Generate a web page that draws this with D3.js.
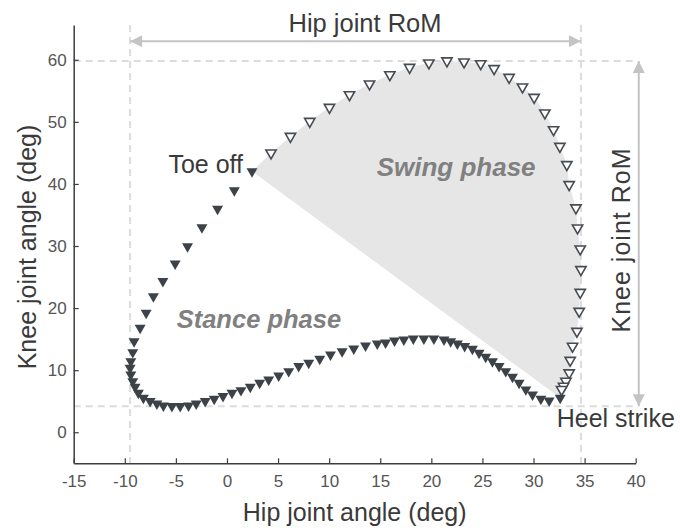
<!DOCTYPE html>
<html>
<head>
<meta charset="utf-8">
<script src="https://cdn.jsdelivr.net/npm/d3@7"></script>
<style>
  body { margin: 0; background: #fff; }
  svg { font-family: "Liberation Sans", Arial, Helvetica, sans-serif; }
</style>
</head>
<body>
<script>
// SVG size
const width = 680;
const height = 530;

// stance phase (filled markers), heel strike -> toe off: [hip, knee] in deg
const stanceHip = [32.61, 31.53, 30.72, 29.90, 29.25, 28.59, 27.94, 27.28, 26.63, 25.98,
    25.32, 24.67, 24.02, 23.26, 22.55, 21.89, 21.24, 20.25, 19.27, 18.24,
    17.31, 16.40, 15.52, 14.71, 13.56, 12.41, 11.27, 10.13, 9.08, 8.00,
    7.02, 6.04, 5.06, 4.08, 3.20, 2.28, 1.37, 0.49, -0.39, -1.25,
    -2.13, -3.01, -3.76, -4.58, -5.39, -6.22, -6.86, -7.52, -8.18, -8.67,
    -8.99, -9.22, -9.41, -9.48, -9.41, -9.22, -9.09, -8.50, -7.91, -7.20,
    -6.27, -5.07, -3.86, -2.45, -0.92, 0.72, 2.45];
const stanceKnee = [5.54, 5.10, 5.38, 6.07, 6.88, 7.95, 8.92, 9.82, 10.63, 11.43,
    12.14, 12.79, 13.43, 13.85, 14.28, 14.65, 14.93, 15.09, 15.09, 15.09,
    14.93, 14.77, 14.44, 14.28, 13.96, 13.48, 13.04, 12.51, 11.82, 11.18,
    10.63, 9.82, 9.13, 8.49, 7.95, 7.31, 6.76, 6.34, 5.80, 5.38,
    4.99, 4.62, 4.30, 4.19, 4.19, 4.30, 4.62, 4.99, 5.54, 6.34,
    7.31, 8.21, 9.29, 10.37, 11.43, 12.88, 14.65, 16.81, 19.23, 21.90,
    24.32, 27.17, 29.95, 33.01, 35.97, 38.97, 42.03];

// swing phase (open markers), after toe off -> before heel strike
const swingHip = [4.31, 6.21, 8.10, 10.03, 11.99, 13.95, 15.94, 17.87, 19.76, 21.53,
    23.20, 24.83, 26.14, 27.61, 28.92, 30.06, 31.11, 31.96, 32.58, 33.26,
    33.49, 34.15, 34.31, 34.57, 34.64, 34.57, 34.47, 34.25, 33.82, 33.59,
    33.49, 33.17, 32.94, 32.75];
const swingKnee = [44.99, 47.66, 50.08, 52.33, 54.38, 56.10, 57.60, 58.78, 59.48, 59.82,
    59.65, 59.37, 58.57, 57.17, 55.62, 53.95, 51.43, 48.74, 46.05, 43.11,
    39.89, 36.14, 32.91, 29.53, 26.20, 22.54, 19.48, 16.26, 13.85, 11.59,
    9.57, 8.21, 7.41, 6.88];

// tick values
const xTicks = [-15, -10, -5, 0, 5, 10, 15, 20, 25, 30, 35, 40];
const yTicks = [0, 10, 20, 30, 40, 50, 60];

const stance = stanceHip.map((h, i) => ({hip: h, knee: stanceKnee[i]}));
const swing = swingHip.map((h, i) => ({hip: h, knee: swingKnee[i]}));
const all = stance.concat(swing);

const svg = d3.select("body")
    .append("svg")
    .attr("width", width)
    .attr("height", height);

// scales
const x = d3.scaleLinear().domain([-15, 40]).range([73.7, 635.7]);
const y = d3.scaleLinear().domain([-5, 65.6]).range([463.3, 25]);

const hipExt = d3.extent(all, d => d.hip);
const kneeExt = d3.extent(all, d => d.knee);

// shaded swing area: toe off -> swing -> heel strike
const area = [stance[stance.length - 1]].concat(swing, [stance[0]]);
svg.append("path")
    .attr("d", d3.line().x(d => x(d.hip)).y(d => y(d.knee))(area) + "Z")
    .attr("fill", "#e6e6e6");

// dashed guide lines
const guide = svg.append("g")
    .attr("stroke", "#dcdcdc")
    .attr("stroke-width", 2)
    .attr("stroke-dasharray", "7,5");
hipExt.forEach(v => {
    guide.append("line")
        .attr("x1", x(v)).attr("x2", x(v))
        .attr("y1", y(65.6)).attr("y2", y(-5));
});
kneeExt.forEach(v => {
    guide.append("line")
        .attr("x1", x(-15)).attr("x2", x(40.2))
        .attr("y1", y(v)).attr("y2", y(v));
});

// arrow heads
const defs = svg.append("defs");
defs.append("marker")
    .attr("id", "head")
    .attr("viewBox", "0 0 10 10")
    .attr("refX", 10).attr("refY", 5)
    .attr("markerWidth", 7).attr("markerHeight", 6)
    .attr("markerUnits", "strokeWidth")
    .attr("orient", "auto-start-reverse")
    .append("path")
    .attr("d", "M0,0 L10,5 L0,10 Z")
    .attr("fill", "#c4c4c4");

// hip RoM arrow
svg.append("line")
    .attr("x1", x(hipExt[0])).attr("x2", x(hipExt[1]))
    .attr("y1", y(63)).attr("y2", y(63))
    .attr("stroke", "#c4c4c4").attr("stroke-width", 2)
    .attr("marker-start", "url(#head)")
    .attr("marker-end", "url(#head)");

// knee RoM arrow
svg.append("line")
    .attr("x1", x(40.3)).attr("x2", x(40.3))
    .attr("y1", y(kneeExt[1])).attr("y2", y(kneeExt[0]))
    .attr("stroke", "#c4c4c4").attr("stroke-width", 2)
    .attr("marker-start", "url(#head)")
    .attr("marker-end", "url(#head)");

// axes (plain hyphen for negatives)
const xAxis = d3.axisBottom(x)
    .tickValues(xTicks)
    .tickFormat(d => String(d))
    .tickSizeInner(-5)
    .tickSizeOuter(0)
    .tickPadding(12);
const yAxis = d3.axisLeft(y)
    .tickValues(yTicks)
    .tickFormat(d => String(d))
    .tickSizeInner(-5)
    .tickSizeOuter(0)
    .tickPadding(7);

const gx = svg.append("g")
    .attr("transform", `translate(0,${y(-5)})`)
    .call(xAxis);
const gy = svg.append("g")
    .attr("transform", `translate(${x(-15)},0)`)
    .call(yAxis);

[gx, gy].forEach(g => {
    g.select(".domain").attr("stroke", "#3d3d3d").attr("stroke-width", 1.5);
    g.selectAll(".tick line").attr("stroke", "#3d3d3d").attr("stroke-width", 1.2);
    g.selectAll(".tick text")
        .attr("fill", "#555")
        .style("font-size", "17px")
        .style("font-family", "'Liberation Sans', Arial, sans-serif");
});

// markers
const tri = d3.symbol().type(d3.symbolTriangle);

svg.selectAll(".swing")
    .data(swing)
    .enter()
    .append("path")
    .attr("class", "swing")
    .attr("d", tri.size(46)())
    .attr("transform", d => `translate(${x(d.hip)},${y(d.knee)}) rotate(180)`)
    .attr("fill", "#fff")
    .attr("stroke", "#474c52")
    .attr("stroke-width", 1.6);

svg.selectAll(".stance")
    .data(stance)
    .enter()
    .append("path")
    .attr("class", "stance")
    .attr("d", tri.size(52)())
    .attr("transform", d => `translate(${x(d.hip)},${y(d.knee)}) rotate(180)`)
    .attr("fill", "#3d4248");

// annotations
svg.append("text")
    .attr("x", x(1.57)).attr("y", y(41.8))
    .attr("text-anchor", "end")
    .attr("fill", "#3a3a3a")
    .style("font-size", "25px")
    .text("Toe off");

svg.append("text")
    .attr("x", x(32.27)).attr("y", y(0.9))
    .attr("fill", "#3a3a3a")
    .style("font-size", "25px")
    .text("Heel strike");

svg.append("text")
    .attr("x", x(14.65)).attr("y", y(41.2))
    .attr("fill", "#808080")
    .style("font-size", "26px")
    .style("font-weight", "bold")
    .style("font-style", "italic")
    .text("Swing phase");

svg.append("text")
    .attr("x", x(-4.92)).attr("y", y(16.75))
    .attr("fill", "#808080")
    .style("font-size", "25.5px")
    .style("font-weight", "bold")
    .style("font-style", "italic")
    .text("Stance phase");

svg.append("text")
    .attr("x", 365).attr("y", 32)
    .attr("text-anchor", "middle")
    .attr("fill", "#3a3a3a")
    .style("font-size", "25.5px")
    .text("Hip joint RoM");

svg.append("text")
    .attr("transform", "translate(630,240) rotate(-90)")
    .attr("text-anchor", "middle")
    .attr("fill", "#3a3a3a")
    .style("font-size", "25px")
    .style("letter-spacing", "1px")
    .text("Knee joint RoM");

// axis titles
svg.append("text")
    .attr("x", x(12.5)).attr("y", 521)
    .attr("text-anchor", "middle")
    .attr("fill", "#3a3a3a")
    .style("font-size", "25px")
    .text("Hip joint angle (deg)");

svg.append("text")
    .attr("transform", "translate(36,247) rotate(-90)")
    .attr("text-anchor", "middle")
    .attr("fill", "#3a3a3a")
    .style("font-size", "25px")
    .text("Knee joint angle (deg)");
</script>
</body>
</html>
